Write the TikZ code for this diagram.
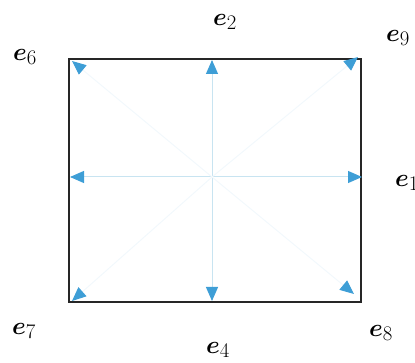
\documentclass[tikz,border=0pt]{standalone}
\usepackage{amsmath,amssymb}
\usetikzlibrary{arrows.meta}

\definecolor{tipblue}{RGB}{62,158,214}
\definecolor{linkblue}{RGB}{200,228,241}
\definecolor{diagblue}{RGB}{242,248,252}

\tikzset{
  vel/.style={draw=linkblue,line width=1pt,-{Triangle[length=14pt,width=12pt,fill=tipblue,color=tipblue]}},
  veldiag/.style={draw=diagblue,line width=1pt,-{Triangle[length=14pt,width=12pt,fill=tipblue,color=tipblue]}},
  dirlabel/.style={font=\fontsize{28}{32}\selectfont,inner sep=0pt}
}

\begin{document}
\begin{tikzpicture}[x=1pt,y=-1pt]
  \useasboundingbox (0,0) rectangle (415,363);
  % lattice cell
  \draw[line width=1.6pt,black!85] (69,59) rectangle (361,302);
  \coordinate (c) at (212,177);
  % arrow tips
  \foreach \n/\x/\y in {1/362/177,2/212/60,3/70/177,4/212/301,6/72/61,9/358/57,7/72/301,8/354/294}
    \coordinate (t\n) at (\x,\y);
  \foreach \n in {1,2,3,4} \draw[vel] (c) -- (t\n);
  \foreach \n in {6,7,8,9} \draw[veldiag] (c) -- (t\n);
  % labels
  \foreach \n/\x/\y in {2/225/22,6/25/57,9/398/38,7/24/331,4/218/350,8/381/333}
    \node[dirlabel] (l\n) at (\x,\y) {$\boldsymbol{e}_{\n}$};
  \node[dirlabel,anchor=west] (l1) at (395,183) {$\boldsymbol{e}_1$};
\end{tikzpicture}
\end{document}
